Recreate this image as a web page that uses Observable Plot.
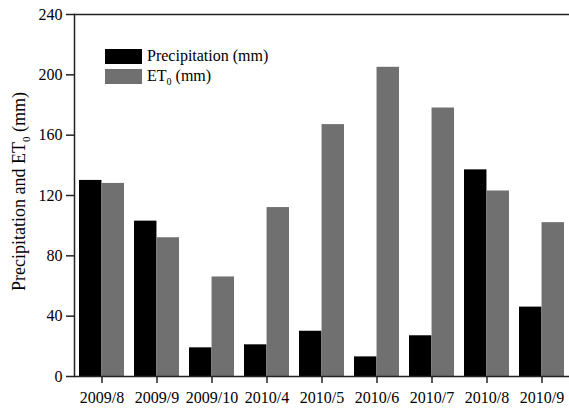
<!DOCTYPE html>
<html>
<head>
<meta charset="utf-8">
<script src="https://cdn.jsdelivr.net/npm/d3@7"></script>
<script src="https://cdn.jsdelivr.net/npm/@observablehq/plot@0.6"></script>
<style>
  html, body { margin: 0; padding: 0; background: #fff; }
  #wrap { position: relative; width: 569px; height: 408px; font-family: 'Liberation Serif', 'Times New Roman', serif; }
  #legend { position: absolute; left: 105px; top: 46px; font-size: 16px; color: #000; }
  .row { display: flex; align-items: center; height: 20.6px; }
  .sw { width: 37px; height: 15px; margin-right: 5px; }
  sub { font-size: 10px; vertical-align: -4px; }
</style>
</head>
<body>
<div id="wrap">
  <div id="chart"></div>
  <div id="legend">
    <div class="row"><div class="sw" style="background:#000"></div><span>Precipitation (mm)</span></div>
    <div class="row"><div class="sw" style="background:#707070"></div><span>ET<sub>0</sub> (mm)</span></div>
  </div>
</div>
<script>
const categories = ["2009/8", "2009/9", "2009/10", "2010/4", "2010/5", "2010/6", "2010/7", "2010/8", "2010/9"];
const precipitation = [130, 103, 19, 21, 30, 13, 27, 137, 46];
const et0 = [128, 92, 66, 112, 167, 205, 178, 123, 102];
const yTicks = [0, 40, 80, 120, 160, 200, 240];
const yLabel = "Precipitation and ET0 (mm)";

const precipRows = categories.map((c, i) => ({cat: c, value: precipitation[i]}));
const etRows = categories.map((c, i) => ({cat: c, value: et0[i]}));

const half = 22.55;
const axisColor = "#222";

const chart = Plot.plot({
  width: 569,
  height: 408,
  marginLeft: 74,
  marginRight: 0,
  marginTop: 14,
  marginBottom: 32,
  style: {fontFamily: "'Liberation Serif', 'Times New Roman', serif", fontSize: "16px", color: "#000", background: "#fff"},
  x: {domain: categories, paddingInner: 0.18, paddingOuter: 0.09, align: 0.5, label: null},
  y: {domain: [0, 240], label: null},
  marks: [
    Plot.barY(precipRows, {x: "cat", y: "value", fill: "#000", insetLeft: 0, insetRight: half}),
    Plot.barY(etRows, {x: "cat", y: "value", fill: "#707070", insetLeft: half, insetRight: 0}),
    Plot.ruleY([0, 240], {stroke: axisColor, strokeWidth: 1.5}),
    Plot.frame({anchor: "left", stroke: axisColor, strokeWidth: 1.5}),
    Plot.axisY({ticks: yTicks, tickSize: 8, tickPadding: 4, label: null, stroke: axisColor, strokeWidth: 1.5, fontSize: 16}),
    Plot.axisX({tickSize: 7, tickPadding: 8.5, label: null, stroke: axisColor, strokeWidth: 1.5, fontSize: 16}),
    Plot.text([yLabel], {frameAnchor: "left", rotate: -90, dx: -55, dy: -4, fontSize: 18, textAnchor: "middle", lineAnchor: "middle", fill: "#000"})
  ]
});
document.getElementById("chart").appendChild(chart);

// subscript the 0 in ET0 of the axis label
d3.select(chart).selectAll("text").filter(function() { return this.textContent === yLabel; }).each(function() {
  const t = d3.select(this);
  t.text(null);
  t.append("tspan").text("Precipitation and ET");
  t.append("tspan").attr("dy", 5).attr("font-size", 11).text("0");
  t.append("tspan").attr("dy", -5).text(" (mm)");
});
</script>
</body>
</html>
